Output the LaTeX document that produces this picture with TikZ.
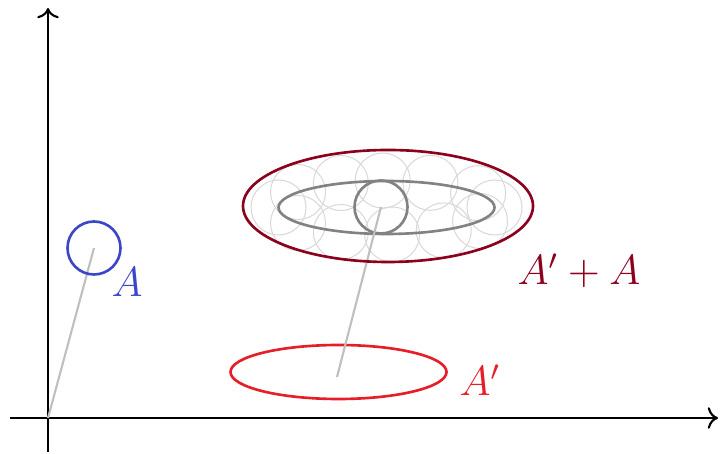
\documentclass[tikz,border=0pt]{standalone}
\usepackage{tikz}
\usetikzlibrary{arrows.meta, positioning, calc}
\usepackage{amsmath}
\usepackage{xcolor}
\definecolor{setblue}{RGB}{60,70,200}
\definecolor{setred}{RGB}{230,30,40}
\definecolor{sumred}{RGB}{140,0,30}
\definecolor{shiftgray}{RGB}{130,130,130}
\tikzset{
  % Coordinate axes
  axis/.style={->, line width=0.6pt, black},
  % Sets (parameterized by color)
  setline/.style={line width=0.75pt, draw=#1},
  setlabel/.style={font=\large, text=#1, inner sep=1pt},
  % Translation vector
  offset/.style={line width=0.6pt, color=gray!50},
  % Copies of A along A'
  copyline/.style={line width=0.3pt, color=gray!30}
}

\begin{document}
\begin{tikzpicture}
  \useasboundingbox (-0.48,-0.36) rectangle (6.72,4.18);

  % Axes
  \coordinate (o) at (0,0);
  \coordinate (xstart) at (-0.38,0);
  \coordinate (xend) at (6.70,0);
  \coordinate (ystart) at (0,-0.34);
  \coordinate (yend) at (0,4.10);
  \draw[axis] (xstart) -- (xend);
  \draw[axis] (ystart) -- (yend);

  % Set A
  \coordinate (acenter) at (0.46,1.70);
  \draw[offset] (o) -- (acenter);
  \draw[setline=setblue] (acenter) circle (0.265);
  \node[setlabel=setblue] (alabel) at (0.79,1.36) {$A$};

  % Set A'
  \coordinate (apcenter) at (2.905,0.46);
  \coordinate (apfoot) at (2.89,0.41);
  \draw[setline=setred] (apcenter) ellipse (1.08 and 0.27);
  \node[setlabel=setred] (aplabel) at (4.32,0.38) {$A'$};

  % Sum A' + A
  \coordinate (sumcenter) at (3.40,2.12);
  \coordinate (incenter) at (3.385,2.105);
  \coordinate (shifted) at (3.33,2.11);
  \foreach \t in {0,32,66,92,115,145,180,215,245,273,302,330}
    \draw[copyline] ($(incenter)+({1.08*cos(\t)},{0.27*sin(\t)})$) circle (0.275);
  \draw[setline=shiftgray] (incenter) ellipse (1.08 and 0.265);
  \draw[setline=shiftgray] (shifted) circle (0.265);
  \draw[offset] (apfoot) -- (shifted);
  \draw[setline=sumred] (sumcenter) ellipse (1.45 and 0.56);
  \node[setlabel=sumred] (sumlabel) at (5.31,1.47) {$A'+A$};
\end{tikzpicture}
\end{document}
